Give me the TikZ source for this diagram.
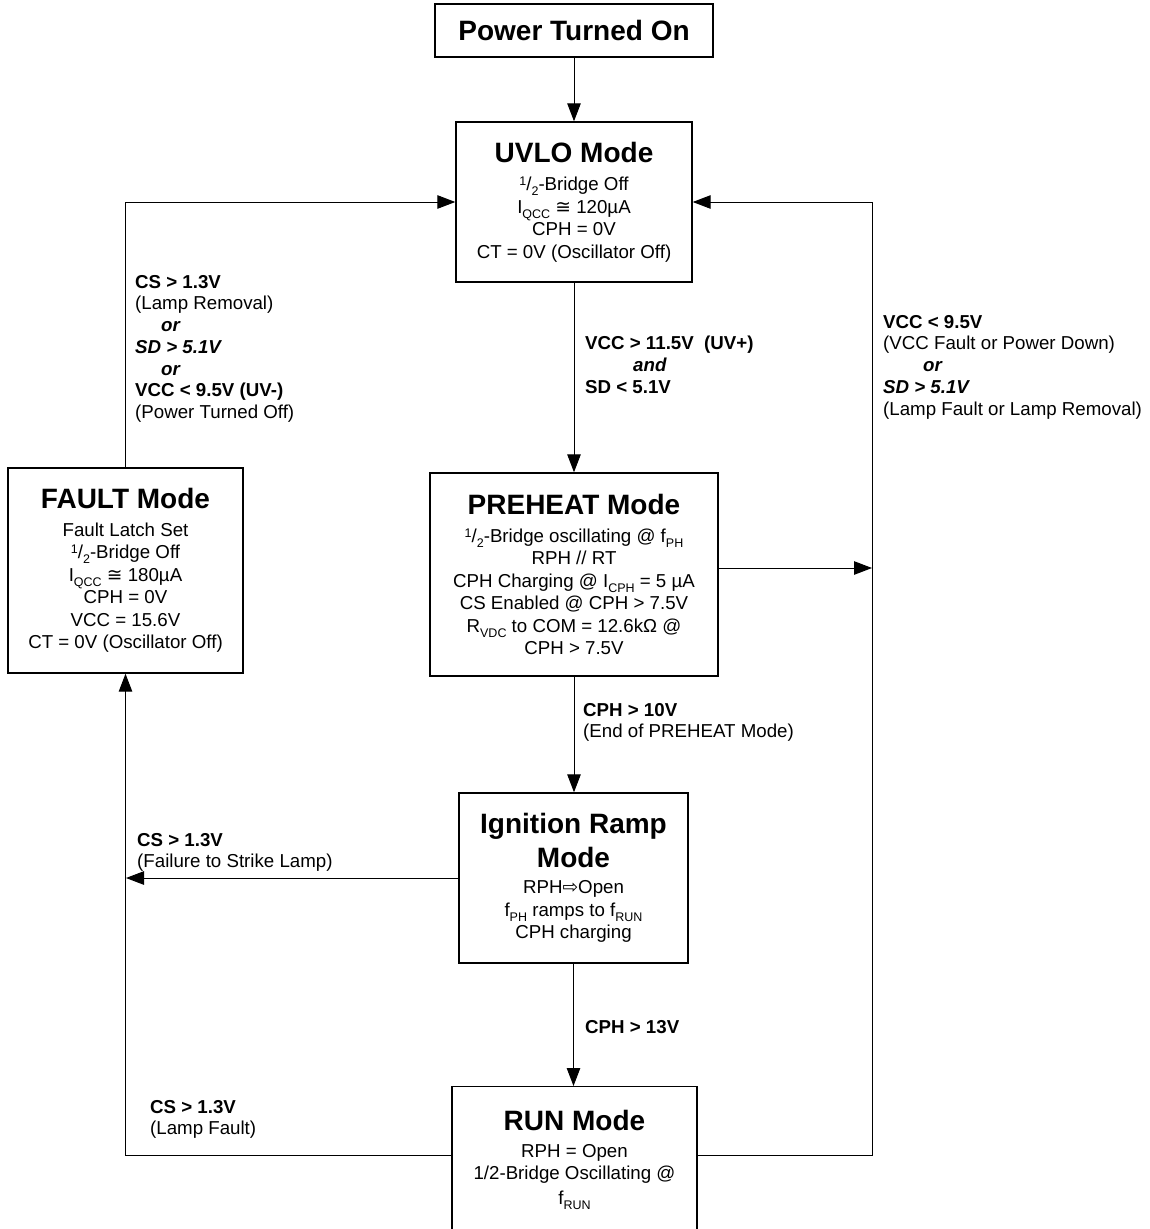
\documentclass[tikz,border=0pt]{standalone}
\usepackage{fontspec}
\setmainfont{Liberation Sans}
\newfontfamily\dejavu{DejaVu Sans}
\usetikzlibrary{arrows.meta}
\newcommand{\mysub}[1]{\raisebox{-5pt}{\fontsize{12.5}{12.5}\selectfont #1}}
\newcommand{\mysup}[1]{\raisebox{5pt}{\fontsize{12.5}{12.5}\selectfont #1}}
\newcommand{\halfsym}{\mysup{1}/\mysub{2}}
\newcommand{\ttl}[1]{{\fontsize{28}{30}\selectfont\bfseries #1}}
\newcommand{\bi}[1]{\textbf{\textit{#1}}}
\tikzset{
  box/.style={draw, line width=1.4pt, align=center, inner sep=0pt,
    font=\fontsize{18.7}{22.5}\selectfont},
  conn/.style={line width=1pt, -{Triangle[length=18pt,width=13.5pt]}},
  lbl/.style={align=left, anchor=north west, inner sep=0pt,
    font=\fontsize{18.7}{21.7}\selectfont},
  txt/.style={align=center, inner sep=0pt, font=\fontsize{18.7}{22.5}\selectfont}
}
\begin{document}
\begin{tikzpicture}[x=1pt,y=-1pt]
\useasboundingbox (0,0) rectangle (1150,1229);
% boxes
\node[box, minimum width=278pt, minimum height=53pt] (power) at (574,30.5) {\ttl{Power Turned On}};
\node[box, minimum width=236pt, minimum height=160pt] (uvlo) at (574,202)
  {\ttl{UVLO Mode}\\[6pt] \halfsym-Bridge Off\\ I\mysub{QCC} {\dejavu ≅} 120µA\\ CPH = 0V\\ CT = 0V (Oscillator Off)};
\node[box, minimum width=288pt, minimum height=203pt] (preheat) at (574,574.5)
  {\ttl{PREHEAT Mode}\\[5pt] \halfsym-Bridge oscillating @ f\mysub{PH}\\ RPH // RT\\ CPH Charging @ I\mysub{CPH} = 5 µA\\ CS Enabled @ CPH > 7.5V\\ R\mysub{VDC} to COM = 12.6kΩ @\\ CPH > 7.5V};
\node[box, minimum width=235pt, minimum height=205pt] (fault) at (125.5,570.5)
  {\ttl{FAULT Mode}\\[5pt] Fault Latch Set\\ \halfsym-Bridge Off\\ I\mysub{QCC} {\dejavu ≅} 180µA\\ CPH = 0V\\ VCC = 15.6V\\ CT = 0V (Oscillator Off)};
\node[box, minimum width=229pt, minimum height=170pt] (ign) at (573.5,878)
  {\ttl{Ignition Ramp}\\[6pt] \ttl{Mode}\\[4pt] RPH{\dejavu ⇨}Open\\ f\mysub{PH} ramps to f\mysub{RUN}\\ CPH charging};
\node[box, minimum width=245pt, minimum height=170pt, anchor=north] (run) at (574.5,1086) {};
\node[txt] (runtext) at (574.5,1160)
  {\ttl{RUN Mode}\\[4pt] RPH = Open\\ 1/2-Bridge Oscillating @\\[2pt] f\mysub{RUN}};
% coordinates
\coordinate (rr) at (697,1155);
\coordinate (rtop) at (872,202);
\coordinate (pr) at (872,568);
\coordinate (il) at (126,878);
\coordinate (rl) at (452,1155);
% connectors
\draw[conn] (power) -- (uvlo);
\draw[conn] (uvlo) -- (preheat);
\draw[conn] (preheat.south) -- (preheat.south |- ign.north);
\draw[conn] (ign.south) -- (ign.south |- run.north);
\draw[conn] (fault.north) |- (uvlo.west);
\draw[conn] (rr) -| (rtop) -- (uvlo.east);
\draw[conn] (preheat.east |- pr) -- (pr);
\draw[conn] (ign.west) -- (il);
\draw[conn] (rl) -| (fault.south);
% labels
\node[lbl] (l1) at (135,275) {\textbf{CS > 1.3V}\\ (Lamp Removal)\\ \hspace*{26pt}\bi{or}\\ \bi{SD > 5.1V}\\ \hspace*{26pt}\bi{or}\\ \textbf{VCC < 9.5V (UV-)}\\ (Power Turned Off)};
\node[lbl] (l2) at (585,336) {\textbf{VCC > 11.5V\ \ (UV+)}\\ \hspace*{48pt}\bi{and}\\ \textbf{SD < 5.1V}};
\node[lbl] (l3) at (883,315) {\textbf{VCC < 9.5V}\\ (VCC Fault or Power Down)\\ \hspace*{40pt}\bi{or}\\ \bi{SD > 5.1V}\\ (Lamp Fault or Lamp Removal)};
\node[lbl] (l4) at (583,703) {\textbf{CPH > 10V}\\ (End of PREHEAT Mode)};
\node[lbl] (l5) at (137,833) {\textbf{CS > 1.3V}\\ (Failure to Strike Lamp)};
\node[lbl] (l6) at (585,1020) {\textbf{CPH > 13V}};
\node[lbl] (l7) at (150,1100) {\textbf{CS > 1.3V}\\ (Lamp Fault)};
\end{tikzpicture}
\end{document}
